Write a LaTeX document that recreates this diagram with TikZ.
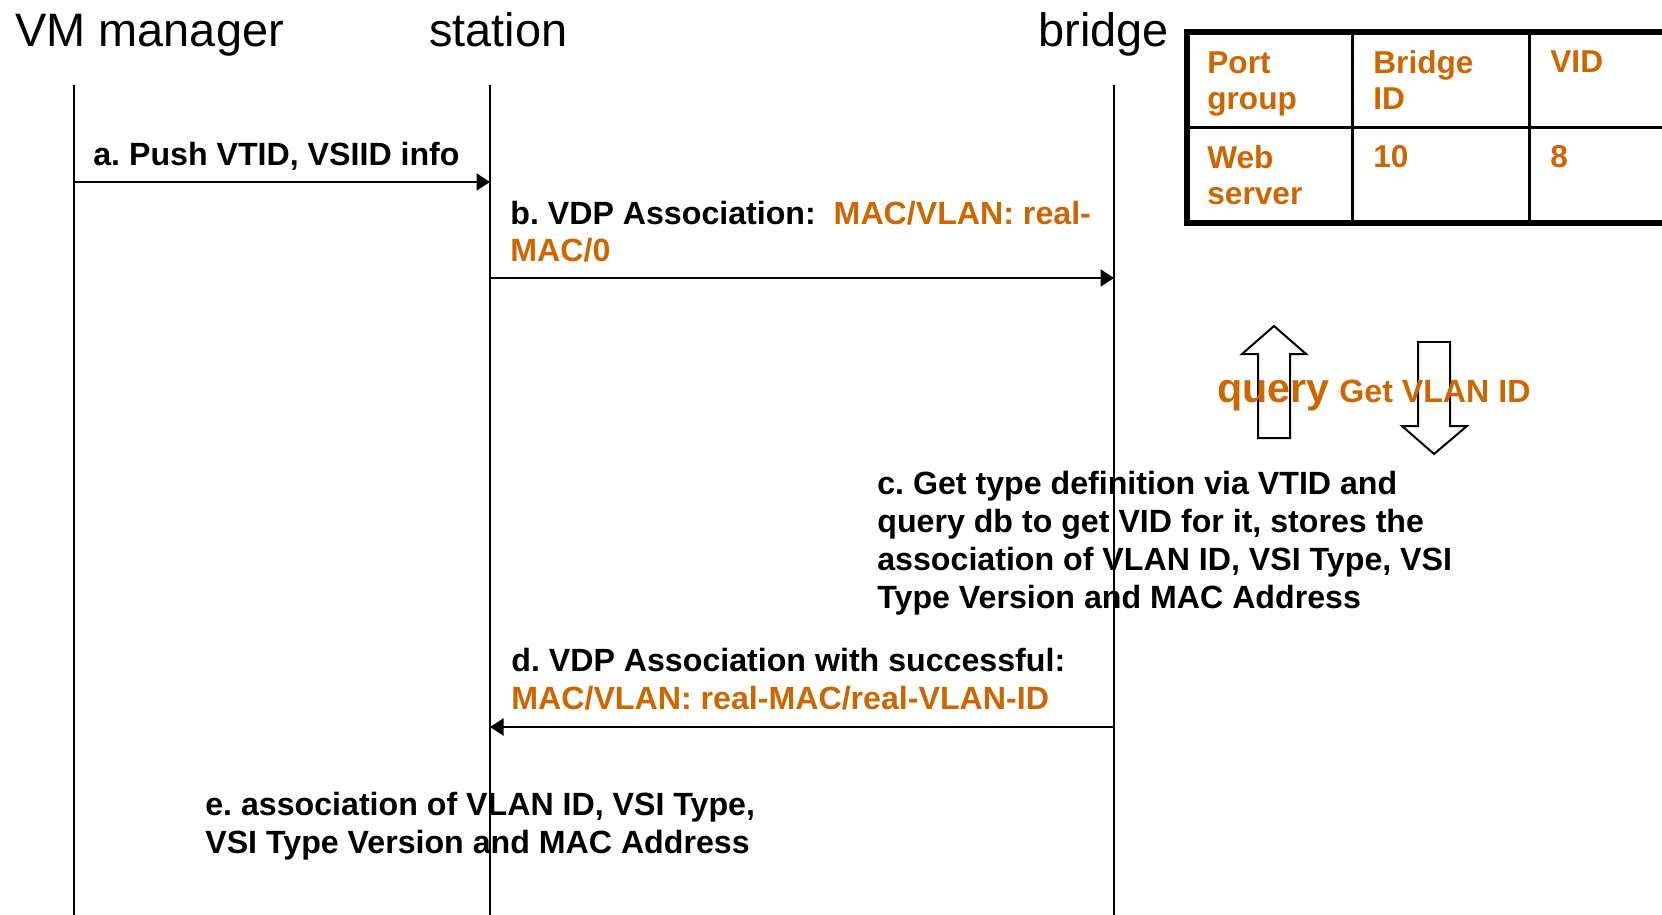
\documentclass[tikz,border=0pt]{standalone}
\usepackage{fontspec}
\setmainfont{Liberation Sans}
\usepackage{xcolor}
\definecolor{vdp-orange}{HTML}{CC6600}
\definecolor{vdp-ink}{HTML}{000000}
\usetikzlibrary{arrows.meta}
\frenchspacing

\tikzset{
    lifeline/.style={vdp-ink, line width=0.04cm},
    msg/.style={vdp-ink, line width=0.04cm, -{Triangle[length=0.27cm, width=0.34cm]}},
    actor/.style={anchor=base west, inner sep=0pt, font=\fontsize{26.7}{32}\selectfont},
    note/.style={anchor=base west, inner sep=0pt, align=left, font=\fontsize{18.3}{21.6}\selectfont\bfseries},
    cell/.style={note, text=vdp-orange, font=\fontsize{18}{21}\selectfont\bfseries},
    blockarrow/.style={draw=vdp-ink, line width=0.04cm, line join=miter},
}

\begin{document}
\begin{tikzpicture}[x=0.02cm, y=-0.02cm]

    % Frame
    \clip (0, 0) rectangle (1662, 915);
    \fill[white] (0, 0) rectangle (1662, 915);

    % Actors
    \node[actor] (vmmgr) at (15, 47) {VM manager};
    \node[actor] (station) at (429, 47) {station};
    \node[actor] (bridge) at (1038, 47) {bridge};

    % Lifelines
    \coordinate (vm-top) at (74, 85);
    \coordinate (vm-bot) at (74, 915);
    \coordinate (st-top) at (490, 85);
    \coordinate (st-bot) at (490, 915);
    \coordinate (br-top) at (1114, 85);
    \coordinate (br-bot) at (1114, 915);
    \draw[lifeline] (vm-top) -- (vm-bot);
    \draw[lifeline] (st-top) -- (st-bot);
    \draw[lifeline] (br-top) -- (br-bot);

    % a. push (multi-line notes sit on their last baseline)
    \coordinate (vm-a) at (74, 182);
    \coordinate (st-a) at (490, 182);
    \node[note] (msga) at (93, 166) {a. Push VTID, VSIID info};
    \draw[msg] (vm-a) -- (st-a);

    % b. association
    \coordinate (st-b) at (490, 278);
    \coordinate (br-b) at (1114, 278);
    \node[note] (msgb) at (510, 262) {b. VDP Association:\ \ \textcolor{vdp-orange}{MAC/VLAN: real-}\\
        \textcolor{vdp-orange}{MAC/0}};
    \draw[msg] (st-b) -- (br-b);

    % c. bridge lookup
    \node[note] (msgc) at (877, 608) {c. Get type definition via VTID and\\
        query db to get VID for it, stores the\\
        association of VLAN ID, VSI Type, VSI\\
        Type Version and MAC Address};

    % d. reply
    \coordinate (br-d) at (1114, 727);
    \coordinate (st-d) at (490, 727);
    \node[note] (msgd) at (511, 709) {d. VDP Association with successful:\\
        \textcolor{vdp-orange}{MAC/VLAN: real-MAC/real-VLAN-ID}};
    \draw[msg] (br-d) -- (st-d);

    % e. station stores
    \node[note] (msge) at (205, 853) {e. association of VLAN ID, VSI Type,\\
        VSI Type Version and MAC Address};

    % query arrows
    \draw[blockarrow] (1258, 438) -- (1258, 354) -- (1242, 354) -- (1274, 326)
                 -- (1306, 354) -- (1290, 354) -- (1290, 438) -- cycle;
    \draw[blockarrow] (1418, 342) -- (1450, 342) -- (1450, 426) -- (1467, 426)
                 -- (1434, 454) -- (1402, 426) -- (1418, 426) -- cycle;
    \node[note, text=vdp-orange, font=\fontsize{23.5}{28}\selectfont\bfseries] (query) at (1217, 402) {query};
    \node[note, text=vdp-orange] (getvlan) at (1339, 402) {Get VLAN ID};

    % Table
    \draw[vdp-ink, line width=0.06cm] (1187, 128) -- (1670, 128);
    \draw[vdp-ink, line width=0.06cm] (1352, 32) -- (1352, 223);
    \draw[vdp-ink, line width=0.06cm] (1529, 32) -- (1529, 223);
    \draw[vdp-ink, line width=0.12cm, line join=miter] (1670, 32) -- (1187, 32) -- (1187, 223) -- (1670, 223);
    \node[cell] (portgroup) at (1207, 110) {Port\\ group};
    \node[cell] (bridgeid) at (1373, 110) {Bridge\\ ID};
    \node[cell] (vid) at (1550, 73) {VID};
    \node[cell] (webserver) at (1207, 205) {Web\\ server};
    \node[cell] (bridgeidval) at (1373, 168) {10};
    \node[cell] (vidval) at (1550, 168) {8};

\end{tikzpicture}
\end{document}
